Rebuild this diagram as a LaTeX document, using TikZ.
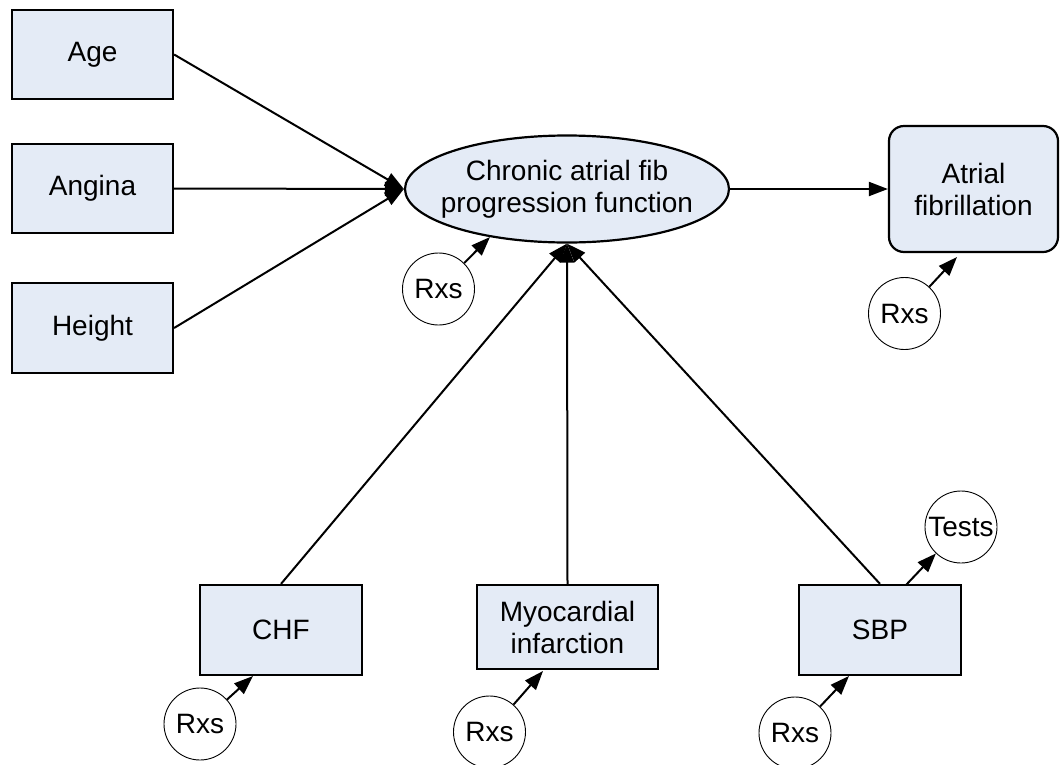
\documentclass[tikz,border=0pt]{standalone}
\usepackage{fontspec}
\setmainfont{Liberation Sans}
\usetikzlibrary{shapes.geometric,arrows.meta}
\definecolor{boxfill}{RGB}{228,235,246}
\begin{document}
\begin{tikzpicture}[x=1pt,y=-1pt,
  every node/.style={font=\fontsize{28}{32}\selectfont, align=center, inner sep=0pt},
  sqbox/.style={draw, line width=2.2pt, fill=boxfill, rectangle},
  rx/.style={draw, line width=0.9pt, circle, minimum size=72pt, fill=white},
  arr/.style={line width=2pt, -{Triangle[length=19pt,width=14pt]}},
  ln/.style={line width=2pt}]
\useasboundingbox (0,0) rectangle (1061,764);
\node[sqbox, minimum width=161pt, minimum height=89pt] (age) at (92.5,54.5) {Age};
\node[sqbox, minimum width=161pt, minimum height=89pt] (angina) at (92.5,188.5) {Angina};
\node[sqbox, minimum width=161pt, minimum height=90pt] (height) at (92.5,328) {Height};
\node[draw, ellipse, line width=2.2pt, fill=boxfill, inner xsep=-16pt, minimum width=324pt, minimum height=107pt] (fn) at (567,189) {Chronic atrial fib\\progression function};
\node[draw, line width=2.2pt, fill=boxfill, rounded corners=15pt, minimum width=169pt, minimum height=126pt] (af) at (973.5,189) {Atrial\\fibrillation};
\node[sqbox, minimum width=162pt, minimum height=90pt] (chf) at (281,630) {CHF};
\node[sqbox, minimum width=181pt, minimum height=84pt] (mi) at (567.5,627) {Myocardial\\infarction};
\node[sqbox, minimum width=162pt, minimum height=90pt] (sbp) at (880,630) {SBP};
\node[rx] (rx1) at (438.5,289) {Rxs};
\node[rx] (rx2) at (904.5,313.5) {Rxs};
\node[rx] (rx3) at (200,724) {Rxs};
\node[rx] (rx4) at (489.5,732) {Rxs};
\node[rx] (rx5) at (795,733) {Rxs};
\node[rx] (tests) at (961,527) {Tests};
\coordinate (t1) at (490,237);
\coordinate (t2) at (957,257);
\coordinate (t3) at (253,676);
\coordinate (t4) at (543,671);
\coordinate (t5) at (849,676);
\coordinate (s6) at (906,585);
% main edges
\draw[arr] (age.east) -- (fn.west);
\draw[arr] (angina.east) -- (fn.west);
\draw[arr] (height.east) -- (fn.west);
\draw[arr] (fn.east) -- (af.west);
\draw[arr] (chf.north) -- (fn.south);
\draw[arr] (mi.north) -- (fn.south);
\draw[arr] (sbp.north) -- (fn.south);
% Rxs edges
\draw[arr] (rx1) -- (t1);
\draw[arr] (rx2) -- (t2);
\draw[arr] (rx3) -- (t3);
\draw[arr] (rx4) -- (t4);
\draw[arr] (rx5) -- (t5);
\draw[arr] (s6) -- (tests);
\end{tikzpicture}
\end{document}
